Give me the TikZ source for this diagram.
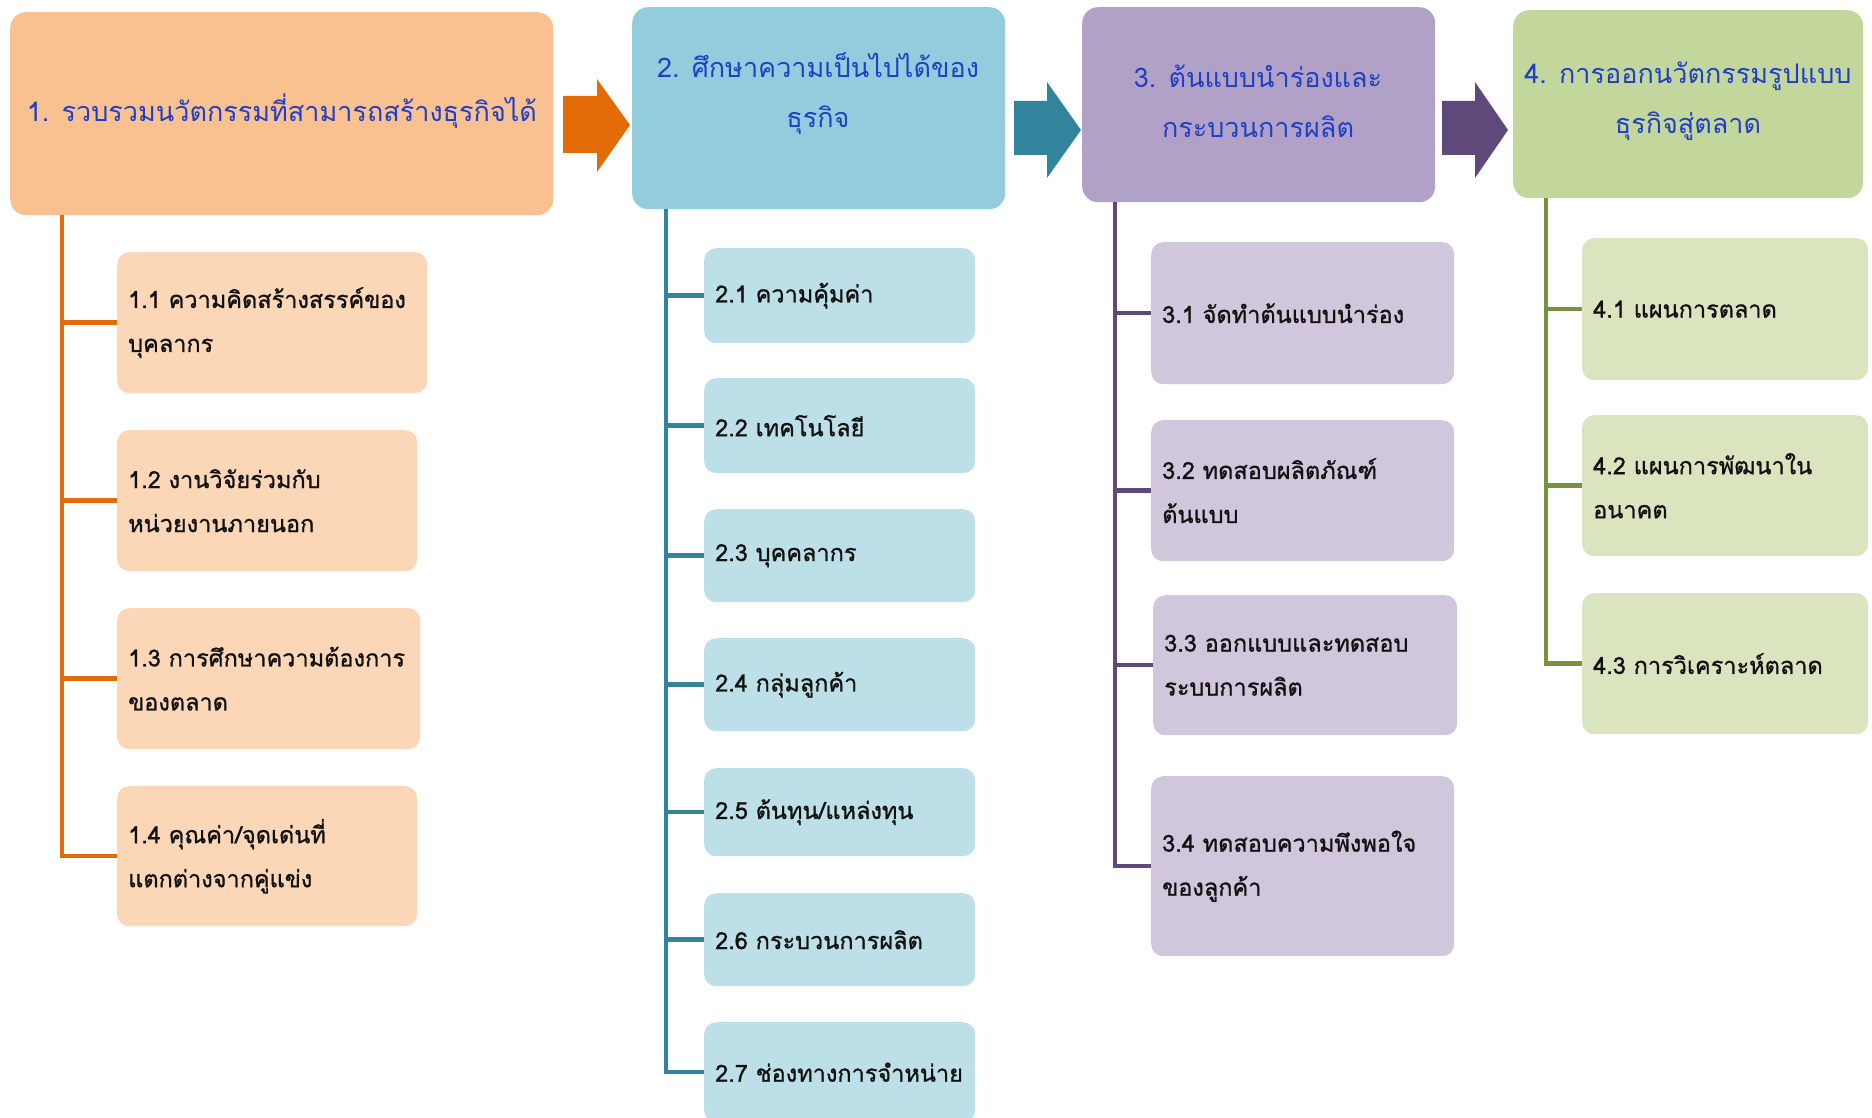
\documentclass[tikz,border=0pt]{standalone}
\usepackage{fontspec}
\setmainfont{Loma}[Script=Thai]
\newfontfamily\itemfont{Loma}[Script=Thai, FakeBold=1]
\usetikzlibrary{calc}

% palette
\definecolor{orgDark}{HTML}{E36C09}
\definecolor{orgMid}{HTML}{F9C090}
\definecolor{orgLight}{HTML}{FBD7B8}
\definecolor{tealDark}{HTML}{31849B}
\definecolor{tealMid}{HTML}{93CDDD}
\definecolor{tealLight}{HTML}{BDE0E8}
\definecolor{purDark}{HTML}{5F497A}
\definecolor{purMid}{HTML}{B2A1C7}
\definecolor{purLight}{HTML}{D0C7DC}
\definecolor{grnDark}{HTML}{77933C}
\definecolor{grnMid}{HTML}{C3D69B}
\definecolor{grnLight}{HTML}{DAE5C0}
\definecolor{titleBlue}{HTML}{1F3FC4}
\definecolor{itemInk}{HTML}{111111}

\tikzset{
  headbox/.style={draw=none, rounded corners=16pt, anchor=north west, inner sep=0pt},
  headtext/.style={text=titleBlue, align=center, font=\fontsize{27}{50}\selectfont},
  itembox/.style={draw=none, rounded corners=12pt, anchor=north west,
    inner xsep=11pt, inner ysep=0pt, align=left, text=itemInk,
    font=\itemfont\fontsize{23.5}{44}\selectfont},
  trunk/.style={line width=4.5pt, line cap=butt, line join=miter},
}

\begin{document}
\begin{tikzpicture}[x=1pt,y=-1pt]
\useasboundingbox (0,0) rectangle (1872,1118);
\fill[white] (0,0) rectangle (1872,1118);

% ---------- top stage boxes ----------
\node[headbox, fill=orgMid,  minimum width=543, minimum height=203] (h1) at (10,12) {};
\node[headbox, fill=tealMid, minimum width=373, minimum height=202] (h2) at (632,7) {};
\node[headbox, fill=purMid,  minimum width=353, minimum height=195] (h3) at (1082,7) {};
\node[headbox, fill=grnMid,  minimum width=350, minimum height=188] (h4) at (1513,10) {};

\node[headtext] (t1) at (282,111) {1. รวบรวมนวัตกรรมที่สามารถสร้างธุรกิจได้};
\node[headtext] (t2) at (818,94) {2. ศึกษาความเป็นไปได้ของ\\ธุรกิจ};
\node[headtext] (t3) at (1258,101) {3. ต้นแบบนำร่องและ\\กระบวนการผลิต};
\node[headtext] (t4) at (1688,101) {4. การออกนวัตกรรมรูปแบบ\\ธุรกิจสู่ตลาด};

% ---------- block arrows between stages ----------
\fill[orgDark]  (563,96)  -- (597,96)  -- (597,79) -- (630,125) -- (597,172) -- (597,153) -- (563,153) -- cycle;
\fill[tealDark] (1014,101) -- (1047,101) -- (1047,82) -- (1081,130) -- (1047,178) -- (1047,155) -- (1014,155) -- cycle;
\fill[purDark]  (1442,101) -- (1475,101) -- (1475,82) -- (1508,130) -- (1475,178) -- (1475,155) -- (1442,155) -- cycle;

% ---------- stage 1 items ----------
\node[itembox, fill=orgLight, minimum width=310, minimum height=141, text width=288] (s11) at (117,252) {1.1 ความคิดสร้างสรรค์ของ\\บุคลากร};
\node[itembox, fill=orgLight, minimum width=300, minimum height=141, text width=278] (s12) at (117,430) {1.2 งานวิจัยร่วมกับ\\หน่วยงานภายนอก};
\node[itembox, fill=orgLight, minimum width=303, minimum height=141, text width=281] (s13) at (117,608) {1.3 การศึกษาความต้องการ\\ของตลาด};
\node[itembox, fill=orgLight, minimum width=300, minimum height=140, text width=278] (s14) at (117,786) {1.4 คุณค่า/จุดเด่นที่\\แตกต่างจากคู่แข่ง};

\coordinate (r1) at (62,215);
\draw[trunk, orgDark] (r1) |- (s14.west);
\foreach \k in {s11,s12,s13}
  \draw[trunk, orgDark] (r1 |- \k.west) -- (\k.west);

% ---------- stage 2 items ----------
\node[itembox, fill=tealLight, minimum width=271, minimum height=95, text width=249] (s21) at (704,248) {2.1 ความคุ้มค่า};
\node[itembox, fill=tealLight, minimum width=271, minimum height=95, text width=249] (s22) at (704,378) {2.2 เทคโนโลยี};
\node[itembox, fill=tealLight, minimum width=271, minimum height=93, text width=249] (s23) at (704,509) {2.3 บุคคลากร};
\node[itembox, fill=tealLight, minimum width=271, minimum height=93, text width=249] (s24) at (704,638) {2.4 กลุ่มลูกค้า};
\node[itembox, fill=tealLight, minimum width=271, minimum height=88, text width=249] (s25) at (704,768) {2.5 ต้นทุน/แหล่งทุน};
\node[itembox, fill=tealLight, minimum width=271, minimum height=93, text width=249] (s26) at (704,893) {2.6 กระบวนการผลิต};
\node[itembox, fill=tealLight, minimum width=271, minimum height=100, text width=249] (s27) at (704,1022) {2.7 ช่องทางการจำหน่าย};

\coordinate (r2) at (666,209);
\draw[trunk, tealDark] (r2) |- (s27.west);
\foreach \k in {s21,s22,s23,s24,s25,s26}
  \draw[trunk, tealDark] (r2 |- \k.west) -- (\k.west);

% ---------- stage 3 items ----------
\node[itembox, fill=purLight, minimum width=303, minimum height=142, text width=281] (s31) at (1151,242) {3.1 จัดทำต้นแบบนำร่อง};
\node[itembox, fill=purLight, minimum width=303, minimum height=141, text width=281] (s32) at (1151,420) {3.2 ทดสอบผลิตภัณฑ์\\ต้นแบบ};
\node[itembox, fill=purLight, minimum width=304, minimum height=140, text width=282] (s33) at (1153,595) {3.3 ออกแบบและทดสอบ\\ระบบการผลิต};
\node[itembox, fill=purLight, minimum width=303, minimum height=180, text width=281] (s34) at (1151,776) {3.4 ทดสอบความพึงพอใจ\\ของลูกค้า};

\coordinate (r3) at (1115,202);
\draw[trunk, purDark] (r3) |- (s34.west);
\foreach \k in {s31,s32,s33}
  \draw[trunk, purDark] (r3 |- \k.west) -- (\k.west);

% ---------- stage 4 items ----------
\node[itembox, fill=grnLight, minimum width=286, minimum height=142, text width=264] (s41) at (1582,238) {4.1 แผนการตลาด};
\node[itembox, fill=grnLight, minimum width=286, minimum height=141, text width=264] (s42) at (1582,415) {4.2 แผนการพัฒนาใน\\อนาคต};
\node[itembox, fill=grnLight, minimum width=286, minimum height=141, text width=264] (s43) at (1582,593) {4.3 การวิเคราะห์ตลาด};

\coordinate (r4) at (1546,198);
\draw[trunk, grnDark] (r4) |- (s43.west);
\foreach \k in {s41,s42}
  \draw[trunk, grnDark] (r4 |- \k.west) -- (\k.west);
\end{tikzpicture}
\end{document}
